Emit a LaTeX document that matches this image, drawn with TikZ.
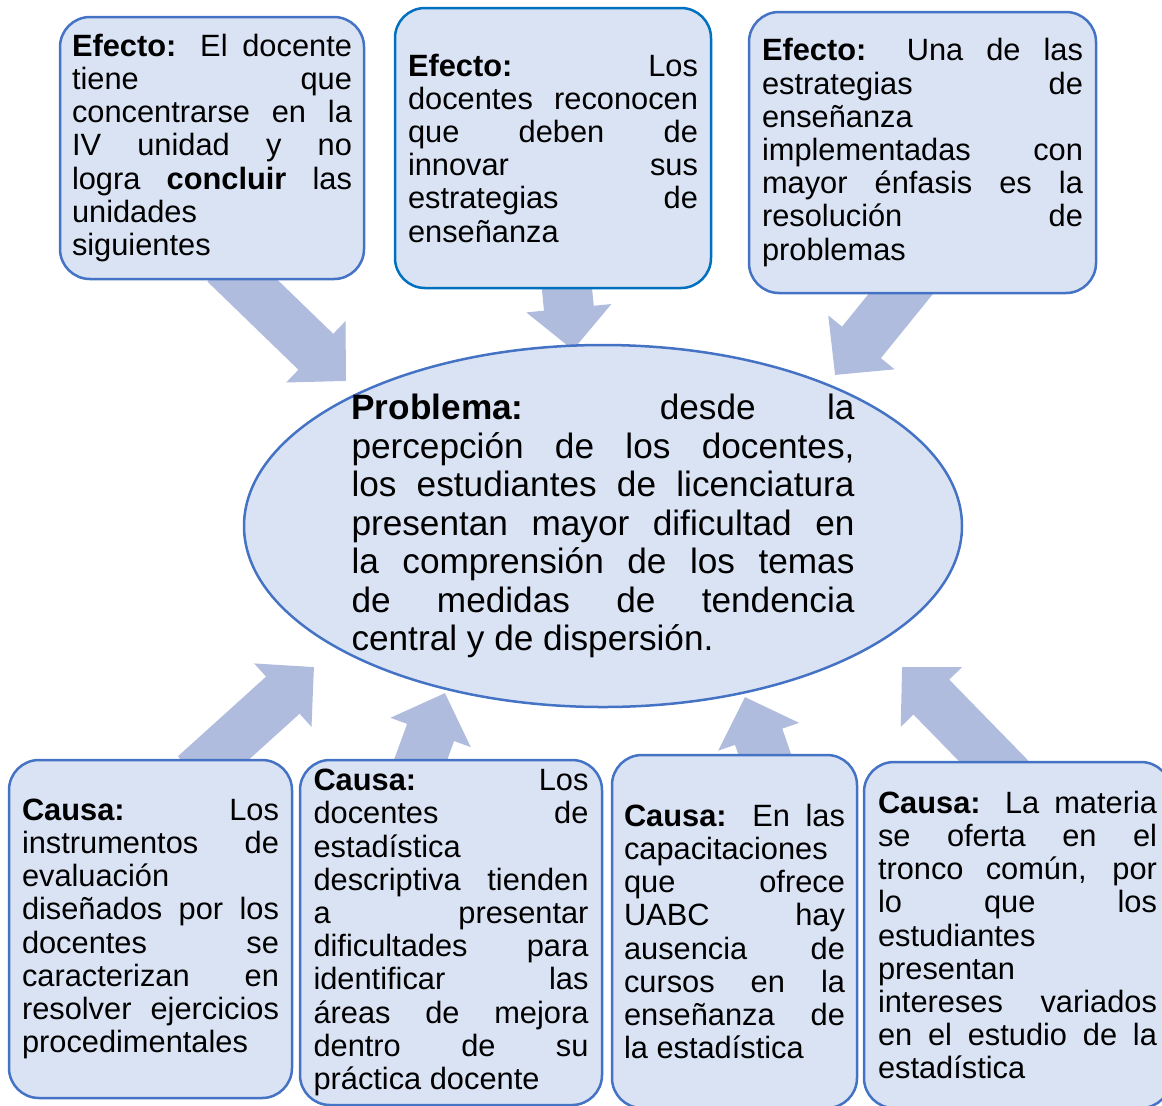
\documentclass[tikz,border=0pt]{standalone}
\usepackage{fontspec}
\setmainfont{Liberation Sans}
\usepackage{tikz}
\usetikzlibrary{shapes,arrows.meta,calc,positioning,backgrounds}
\definecolor{relleno}{HTML}{DAE3F3}
\definecolor{borde}{HTML}{4472C4}
\definecolor{bordeb}{HTML}{0070C0}
\definecolor{flecha}{HTML}{B0BCDD}
\tolerance=10000
\hyphenpenalty=10000

\begin{document}
\begin{tikzpicture}[x=0.5pt,y=-0.5pt,
	caja/.style={draw=borde,line width=1.25pt,fill=relleno,rounded corners=15pt,inner sep=0pt,align=justify,
		font=\fontsize{15.4}{16.6}\selectfont},
	bloque/.style={line width=25pt,draw=flecha,-{Triangle[width=41.5pt,length=21pt]},shorten <=-12pt}]
	\useasboundingbox (0,0) rectangle (1162,1105);

	\node[caja,minimum width=152pt,minimum height=131pt,text width=140pt] (1) at (212,148)
		{\textbf{Efecto:} El docente\linebreak tiene que\linebreak concentrarse en la\linebreak IV unidad y no\linebreak logra \textbf{concluir} las\linebreak unidades\linebreak siguientes};
	\node[caja,draw=bordeb,minimum width=158pt,minimum height=140pt,text width=145pt] (2) at (553,148)
		{\textbf{Efecto:} Los\linebreak docentes reconocen\linebreak que deben de\linebreak innovar sus\linebreak estrategias de\linebreak enseñanza};
	\node[caja,minimum width=173.5pt,minimum height=140.5pt,text width=160.5pt] (3) at (922.5,152.5)
		{\textbf{Efecto:} Una de las\linebreak estrategias de\linebreak enseñanza\linebreak implementadas con\linebreak mayor énfasis es la\linebreak resolución de\linebreak problemas};

	\node[ellipse,draw=borde,line width=1.25pt,fill=relleno,minimum width=359pt,minimum height=181pt,
		inner xsep=0pt,inner ysep=-3pt,text width=251.5pt,align=justify,
		font=\fontsize{17.6}{19.25}\selectfont] (4) at (603,526)
		{\textbf{Problema:} desde la\linebreak percepción de los docentes,\linebreak los estudiantes de licenciatura\linebreak presentan mayor dificultad en\linebreak la comprensión de los temas\linebreak de medidas de tendencia\linebreak central y de dispersión.};

	\node[caja,minimum width=141.5pt,minimum height=169pt,text width=128.5pt] (5) at (150.5,929)
		{\textbf{Causa:} Los\linebreak instrumentos de\linebreak evaluación\linebreak diseñados por los\linebreak docentes se\linebreak caracterizan en\linebreak resolver ejercicios\linebreak procedimentales};
	\node[caja,minimum width=151pt,minimum height=172.5pt,text width=137.5pt] (6) at (451,932.5)
		{\textbf{Causa:} Los\linebreak docentes de\linebreak estadística\linebreak descriptiva tienden\linebreak a presentar\linebreak dificultades para\linebreak identificar las\linebreak áreas de mejora\linebreak dentro de su\linebreak práctica docente};
	\node[caja,minimum width=122.5pt,minimum height=176.5pt,text width=110.5pt] (7) at (734.5,931.5)
		{\textbf{Causa:} En las\linebreak capacitaciones\linebreak que ofrece\linebreak UABC hay\linebreak ausencia de\linebreak cursos en la\linebreak enseñanza de\linebreak la estadística};
	\node[caja,minimum width=153.5pt,minimum height=173pt,text width=139.5pt] (8) at (1017.5,935)
		{\textbf{Causa:} La materia\linebreak se oferta en el\linebreak tronco común, por\linebreak lo que los\linebreak estudiantes\linebreak presentan\linebreak intereses variados\linebreak en el estudio de la\linebreak estadística};

	\coordinate (9) at (346,381);
	\coordinate (10) at (573,350);
	\coordinate (11) at (835,375);
	\coordinate (12) at (314,667);
	\coordinate (13) at (445,693);
	\coordinate (14) at (745,697);
	\coordinate (15) at (902,667);

	\begin{scope}[on background layer]
		\path ($(1.south)+(30,0)$) edge[bloque] (9);
		\path ($(2.south)+(14,0)$) edge[bloque] (10);
		\path ($(3.south)+(-22,0)$) edge[bloque] (11);
		\path ($(5.north)+(62,0)$) edge[bloque] (12);
		\path ($(6.north)+(-30,0)$) edge[bloque] (13);
		\path ($(7.north)+(30,0)$) edge[bloque] (14);
		\path ($(8.north)+(-24,0)$) edge[bloque] (15);
	\end{scope}
\end{tikzpicture}
\end{document}
